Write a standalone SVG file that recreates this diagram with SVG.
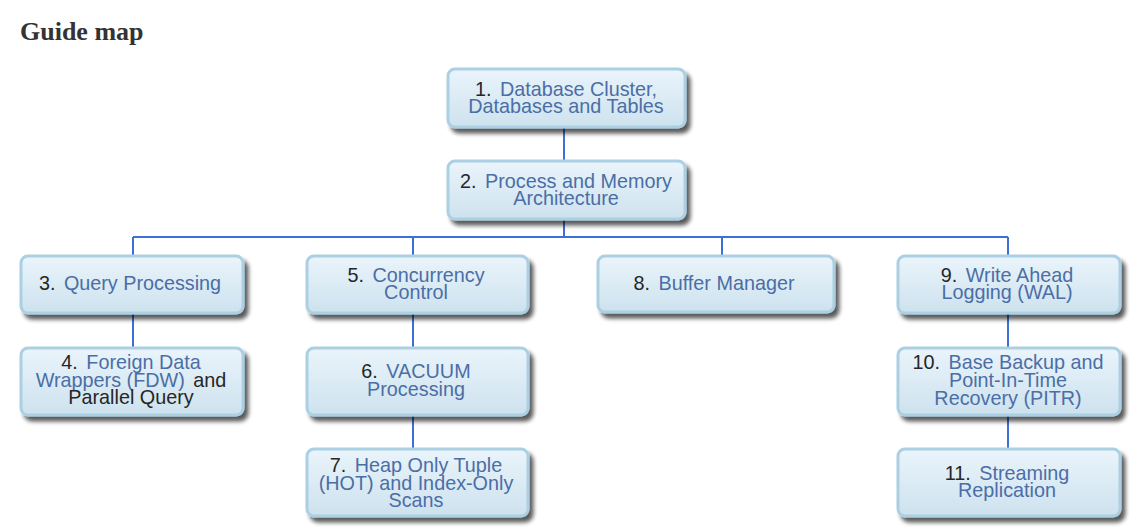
<svg xmlns="http://www.w3.org/2000/svg" width="1134" height="528" viewBox="0 0 1134 528">
<defs>
<linearGradient id="bg" x1="0" y1="0" x2="0" y2="1">
<stop offset="0" stop-color="#eaf4fb"/>
<stop offset="1" stop-color="#cde2ee"/>
</linearGradient>
<filter id="sh" x="-10%" y="-20%" width="125%" height="150%">
<feGaussianBlur in="SourceAlpha" stdDeviation="2.2"/>
<feOffset dx="4" dy="5" result="o"/>
<feComponentTransfer><feFuncA type="linear" slope="0.65"/></feComponentTransfer>
<feMerge><feMergeNode/><feMergeNode in="SourceGraphic"/></feMerge>
</filter>
</defs>
<style>
.box{fill:url(#bg);stroke:#abd0e4;stroke-width:3;filter:url(#sh)}
.t{font-family:"Liberation Sans",Arial,sans-serif;font-size:19.8px;fill:#262626;text-anchor:middle}
.l{fill:#4b6ea6}
.c{stroke:#3d6fd6;stroke-width:2;fill:none}
.title{font-family:"Liberation Serif","Times New Roman",serif;font-weight:bold;font-size:26px;fill:#333}
</style>
<rect width="1134" height="528" fill="#fff"/>
<text class="title" x="20" y="40">Guide map</text>
<g id="connectors">
<path class="c" d="M564 128V160M564 219V237M133 237H1008M133 237V255M413 237V255M722 237V255M1008 237V255M133 313V347M413 313V347M413 415V448M1008 313V347M1008 415V448"/>
</g>
<g id="n1"><rect class="box" x="448" y="69" width="237" height="58" rx="7"/>
<text class="t" x="566"><tspan x="566" y="96">1. <tspan class="l" dx="3">Database Cluster,</tspan></tspan><tspan x="566" y="113" class="l">Databases and Tables</tspan></text></g>
<g id="n2"><rect class="box" x="448" y="161" width="237" height="58" rx="7"/>
<text class="t"><tspan x="566" y="188">2. <tspan class="l" dx="3">Process and Memory</tspan></tspan><tspan x="566" y="205" class="l">Architecture</tspan></text></g>
<g id="n3"><rect class="box" x="21" y="256" width="222" height="57" rx="7"/>
<text class="t"><tspan x="130" y="290">3. <tspan class="l" dx="3">Query Processing</tspan></tspan></text></g>
<g id="n4"><rect class="box" x="21" y="348" width="222" height="67" rx="7"/>
<text class="t"><tspan x="131" y="369">4. <tspan class="l" dx="3">Foreign Data</tspan></tspan><tspan x="131" y="387"><tspan class="l">Wrappers (FDW)</tspan> <tspan dx="3">and</tspan></tspan><tspan x="131" y="404">Parallel Query</tspan></text></g>
<g id="n5"><rect class="box" x="307" y="256" width="221" height="57" rx="7"/>
<text class="t"><tspan x="416" y="282">5. <tspan class="l" dx="3">Concurrency</tspan></tspan><tspan x="416" y="299" class="l">Control</tspan></text></g>
<g id="n6"><rect class="box" x="307" y="348" width="221" height="67" rx="7"/>
<text class="t"><tspan x="416" y="378">6. <tspan class="l" dx="3">VACUUM</tspan></tspan><tspan x="416" y="396" class="l">Processing</tspan></text></g>
<g id="n7"><rect class="box" x="307" y="449" width="221" height="67" rx="7"/>
<text class="t"><tspan x="416" y="472">7. <tspan class="l" dx="3">Heap Only Tuple</tspan></tspan><tspan x="416" y="490" class="l">(HOT) and Index-Only</tspan><tspan x="416" y="507" class="l">Scans</tspan></text></g>
<g id="n8"><rect class="box" x="598" y="256" width="236" height="56" rx="7"/>
<text class="t"><tspan x="714" y="290">8. <tspan class="l" dx="3">Buffer Manager</tspan></tspan></text></g>
<g id="n9"><rect class="box" x="898" y="256" width="222" height="57" rx="7"/>
<text class="t"><tspan x="1007" y="282">9. <tspan class="l" dx="3">Write Ahead</tspan></tspan><tspan x="1007" y="299" class="l">Logging (WAL)</tspan></text></g>
<g id="n10"><rect class="box" x="898" y="348" width="222" height="67" rx="7"/>
<text class="t"><tspan x="1008" y="369">10. <tspan class="l" dx="3">Base Backup and</tspan></tspan><tspan x="1008" y="387" class="l">Point-In-Time</tspan><tspan x="1008" y="405" class="l">Recovery (PITR)</tspan></text></g>
<g id="n11"><rect class="box" x="898" y="449" width="222" height="67" rx="7"/>
<text class="t"><tspan x="1007" y="480">11. <tspan class="l" dx="3">Streaming</tspan></tspan><tspan x="1007" y="497" class="l">Replication</tspan></text></g>
</svg>
